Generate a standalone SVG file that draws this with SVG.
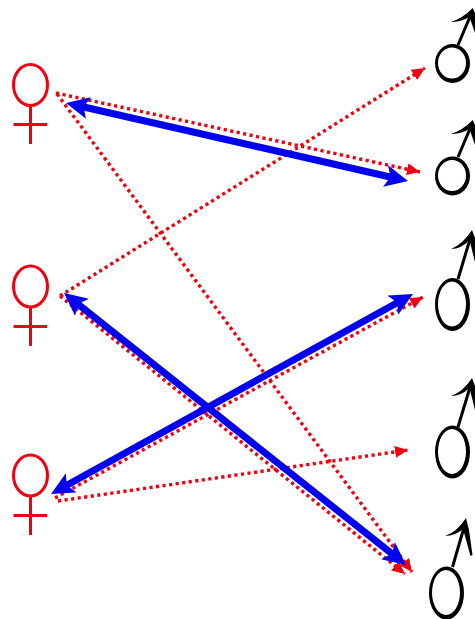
<svg xmlns="http://www.w3.org/2000/svg" width="475" height="619" viewBox="0 0 475 619">
<style>
.f{fill:none;stroke:#f00010;stroke-width:3}
.m{fill:#000;fill-rule:evenodd}
.s{fill:none;stroke:#000;stroke-width:3}
.b{fill:none;stroke:#0000f0;stroke-width:7;marker-start:url(#bh);marker-end:url(#bh)}
.r{fill:none;stroke:#f00010;stroke-width:3.4;stroke-dasharray:3.2 3.4;marker-end:url(#rh)}
</style>
<defs>
<marker id="bh" markerUnits="userSpaceOnUse" markerWidth="24" markerHeight="22" refX="7" refY="11" orient="auto-start-reverse" viewBox="0 0 24 22"><path d="M0,0L23,11L0,22L5,11Z" fill="#0000f0"/></marker>
<marker id="rh" markerUnits="userSpaceOnUse" markerWidth="14" markerHeight="12" refX="13" refY="6" orient="auto" viewBox="0 0 14 12"><path d="M0,0L13,6L0,12Z" fill="#f00010"/></marker>
</defs>
<g id="female-1"><ellipse class="f" cx="30.500" cy="85" rx="17" ry="20.500"/><path class="f" d="M30.500,105V144M13.500,124.500H47"/></g>
<g id="female-2"><ellipse class="f" cx="30.500" cy="286.500" rx="17" ry="20.500"/><path class="f" d="M30.500,307V346M13.500,326.500H47"/></g>
<g id="female-3"><ellipse class="f" cx="30.500" cy="475.500" rx="17" ry="20.500"/><path class="f" d="M30.500,496V535M13.500,515.500H47"/></g>
<g id="male-1"><path class="m" d="M435,63.500a17.500,19.500 0 1 0 35,0a17.500,19.500 0 1 0 -35,0ZM438,63a14,15.500 0 1 1 28,0a14,15.500 0 1 1 -28,0Z"/><path class="s" d="M458,45L472,12"/><path class="m" d="M451,22Q463,18 472.700,8L475,13V33L469.500,17Q461,22 451,22Z"/></g>
<g id="male-2"><path class="m" d="M435,176a17.500,19.500 0 1 0 35,0a17.500,19.500 0 1 0 -35,0ZM438,175.500a14,15.500 0 1 1 28,0a14,15.500 0 1 1 -28,0Z"/><path class="s" d="M458,157L472,124"/><path class="m" d="M451,134Q463,130 472.700,120L475,125V145L469.500,129Q461,134 451,134Z"/></g>
<g id="male-3"><path class="m" d="M435,304.500a17.500,26.500 0 1 0 35,0a17.500,26.500 0 1 0 -35,0ZM438,304a14,22.500 0 1 1 28,0a14,22.500 0 1 1 -28,0Z"/><path class="s" d="M458,279L471,236"/><path class="m" d="M451,249Q463,244 472,230L475,238V262L469.500,240Q461,249 451,249Z"/></g>
<g id="male-4"><path class="m" d="M435,452a17.500,26.500 0 1 0 35,0a17.500,26.500 0 1 0 -35,0ZM438,451.500a14,22.500 0 1 1 28,0a14,22.500 0 1 1 -28,0Z"/><path class="s" d="M458,427L471,384"/><path class="m" d="M451,396Q463,392 472,378L475,386V410L469.500,388Q461,396 451,396Z"/></g>
<g id="male-5"><path class="m" d="M429,593a17.500,26.500 0 1 0 35,0a17.500,26.500 0 1 0 -35,0ZM432,592.500a14,22.500 0 1 1 28,0a14,22.500 0 1 1 -28,0Z"/><path class="s" d="M452.500,567L465,524"/><path class="m" d="M445,536Q457,532 466,518L469,530L472.500,555L470.500,556L463,529Q455,536 445,536Z"/></g>
<g id="connectors">
<path class="r" d="M56,93L420,172"/>
<path class="r" d="M57,94L412,572"/>
<path class="r" d="M60,296L425,68"/>
<path class="r" d="M60,296L405,574"/>
<path class="r" d="M55,498L423,297"/>
<path class="r" d="M58,501L408,450"/>
<path class="b" d="M81.600,106.500L392.400,177.500"/>
<path class="b" d="M76.500,303L393.500,555"/>
<path class="b" d="M65,486.200L399,301.800"/>
</g>
</svg>
